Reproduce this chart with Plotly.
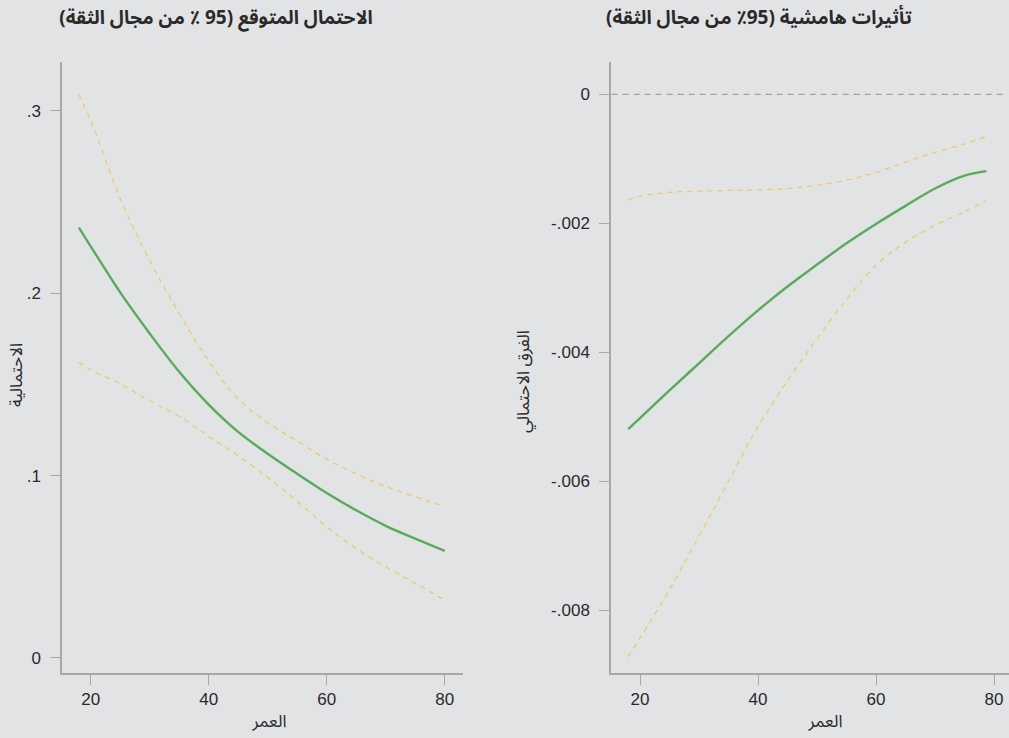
import plotly.graph_objects as go

# Predicted probability by age, with 95% confidence band
age_pred = [18, 20, 25, 30, 35, 40, 45, 50, 55, 60, 65, 70, 75, 80]
pred_mid = [0.236, 0.2258, 0.2005, 0.178, 0.157, 0.139, 0.124, 0.112, 0.101, 0.0905, 0.081, 0.0725, 0.0655, 0.0588]
pred_hi = [0.309, 0.295, 0.252, 0.218, 0.189, 0.163, 0.142, 0.129, 0.119, 0.109, 0.101, 0.094, 0.0885, 0.083]
pred_lo = [0.1622, 0.158, 0.1505, 0.141, 0.1325, 0.1215, 0.111, 0.099, 0.086, 0.072, 0.060, 0.050, 0.041, 0.0318]

# Marginal effect of age, with 95% confidence band
age_me = [18, 20, 25, 30, 35, 40, 45, 50, 55, 60, 65, 70, 75, 78.7]
me_mid = [-0.00519, -0.00502, -0.00459, -0.00417, -0.00375, -0.00335, -0.00298, -0.00264,
          -0.00231, -0.00201, -0.00173, -0.00146, -0.00126, -0.00119]
me_hi = [-0.00164, -0.00158, -0.00152, -0.00150, -0.00149, -0.00148, -0.00146, -0.00141,
         -0.00133, -0.00121, -0.00105, -0.00090, -0.00077, -0.00065]
me_lo = [-0.00872, -0.00843, -0.00768, -0.00685, -0.00600, -0.00515, -0.00444, -0.00379,
         -0.00318, -0.00265, -0.00229, -0.00203, -0.00182, -0.00165]

x_ticks = [20, 40, 60, 80]
x_ticktext = ["20", "40", "60", "80"]
pred_ticks = [0, 0.1, 0.2, 0.3]
pred_ticktext = ["0", ".1", ".2", ".3"]
me_ticks = [0, -0.002, -0.004, -0.006, -0.008]
me_ticktext = ["0", "-.002", "-.004", "-.006", "-.008"]

RLM = "\u200f"
title_pred = "الاحتمال المتوقع (95 ٪ من مجال الثقة)" + RLM
title_me = "تأثيرات هامشية (95٪ من مجال الثقة)" + RLM
ylab_pred = "الاحتمالية"
ylab_me = "الفرق الاحتمالي"
xlab = "العمر"

BG = "#E2E3E5"
GREEN = "#5AAA5C"
GOLD = "#F0C75A"
AXIS = "#A7A8AA"
TEXT = "#2A2A2A"
NUM_FONT = "Liberation Sans, Arial, sans-serif"
AR_FONT = "Noto Sans Arabic, DejaVu Sans, sans-serif"

W, H = 1009, 738


def px(x):
    return x / W


def py(y):
    return 1 - y / H


fig = go.Figure()


def add_band(xs, mid, lo, hi, xa, ya):
    for vals in (hi, lo):
        fig.add_trace(go.Scatter(x=xs, y=vals, mode="lines", xaxis=xa, yaxis=ya,
                                 line=dict(color=GOLD, width=1.2, dash="5px,5px", shape="spline"),
                                 hoverinfo="skip", showlegend=False))
    fig.add_trace(go.Scatter(x=xs, y=mid, mode="lines", xaxis=xa, yaxis=ya,
                             line=dict(color=GREEN, width=2.4, shape="spline"),
                             showlegend=False))


add_band(age_pred, pred_mid, pred_lo, pred_hi, "x", "y")
add_band(age_me, me_mid, me_lo, me_hi, "x2", "y2")

# zero reference line on the marginal-effects panel
fig.add_shape(type="line", xref="x2", yref="y2", x0=15.2, x1=82.0, y0=0, y1=0,
              line=dict(color="#909090", width=1, dash="6px,5px"), layer="below")

y_dom = [py(673), py(62)]
common_axis = dict(showline=True, linecolor=AXIS, linewidth=1.5, ticks="outside",
                   ticklen=10, tickwidth=1.2, tickcolor=AXIS, showgrid=False, zeroline=False,
                   tickfont=dict(family=NUM_FONT, size=17, color=TEXT))

fig.update_layout(
    width=W, height=H,
    margin=dict(l=0, r=0, t=0, b=0),
    paper_bgcolor=BG, plot_bgcolor=BG,
    xaxis=dict(domain=[px(62), px(463)], range=[15.14, 83.1], anchor="y",
               tickvals=x_ticks, ticktext=x_ticktext, **common_axis),
    yaxis=dict(domain=y_dom, range=[-0.00823, 0.32687], anchor="x",
               tickvals=pred_ticks, ticktext=pred_ticktext, ticklabelstandoff=6, **common_axis),
    xaxis2=dict(domain=[px(611), 1.0], range=[15.085, 82.54], anchor="y2",
                tickvals=x_ticks, ticktext=x_ticktext, **common_axis),
    yaxis2=dict(domain=y_dom, range=[-0.008972, 0.000501], anchor="x2",
                tickvals=me_ticks, ticktext=me_ticktext, ticklabelstandoff=6, **common_axis),
)

title_font = dict(family=AR_FONT, size=19, color=TEXT)
label_font = dict(family=AR_FONT, size=17, color=TEXT)
annots = [
    dict(x=px(216), y=py(18), text="<b>" + title_pred + "</b>", font=title_font, width=380, height=30),
    dict(x=px(759), y=py(18), text="<b>" + title_me + "</b>", font=title_font, width=370, height=30),
    dict(x=px(269), y=py(722), text=xlab, font=label_font, width=80, height=26),
    dict(x=px(825), y=py(722), text=xlab, font=label_font, width=80, height=26),
    dict(x=px(17), y=py(375), text=ylab_pred, font=label_font, textangle=-90),
    dict(x=px(524), y=py(382), text=ylab_me, font=label_font, textangle=-90),
]
for a in annots:
    fig.add_annotation(xref="paper", yref="paper", showarrow=False, borderpad=0,
                       xanchor="center", yanchor="middle", **a)

fig.write_html("out.html")
